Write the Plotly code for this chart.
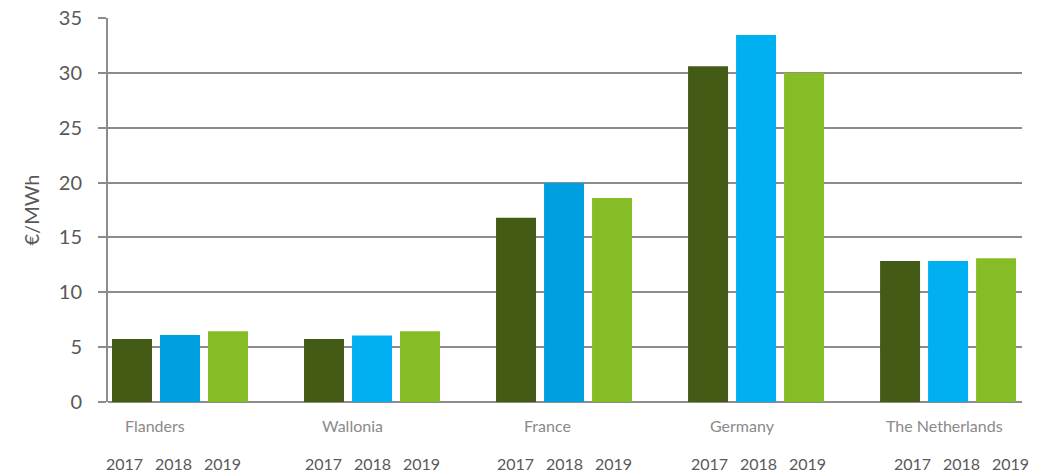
import plotly.graph_objects as go

regions = ["Flanders", "Wallonia", "France", "Germany", "The Netherlands"]
years = ["2017", "2018", "2019"]
values_2017 = [5.75, 5.75, 16.8, 30.6, 12.85]
values_2018 = [6.1, 6.05, 19.95, 33.45, 12.85]
values_2019 = [6.45, 6.45, 18.6, 30.0, 13.1]
y_ticks = [0, 5, 10, 15, 20, 25, 30, 35]

dark_green = "#435B15"
blue_a = "#00A0E0"
blue_b = "#00B0F0"
light_green = "#86BC25"
colors_2018 = [blue_a, blue_b, blue_a, blue_b, blue_b]

# label placement tweaks (pixels)
cat_shift = [-25, -20, -17, -14, -4]
year_shift = [-7, 0, 0, 2, 13]

xs = list(range(len(regions)))

fig = go.Figure()
fig.add_trace(go.Bar(x=xs, y=values_2017, name="2017", marker_color=dark_green, marker_line_width=0))
fig.add_trace(go.Bar(x=xs, y=values_2018, name="2018", marker_color=colors_2018, marker_line_width=0))
fig.add_trace(go.Bar(x=xs, y=values_2019, name="2019", marker_color=light_green, marker_line_width=0))

font_fam = "Lato, 'Open Sans', sans-serif"
annotations = []
offsets = [-0.25, 0.0, 0.25]
for i, r in enumerate(regions):
    annotations.append(dict(x=i, y=0, xref="x", yref="paper", text=r, showarrow=False,
                            yshift=-23, xshift=cat_shift[i],
                            font=dict(family=font_fam, size=16, color="#8a8a8a"),
                            xanchor="center", yanchor="middle"))
    for j, yr in enumerate(years):
        annotations.append(dict(x=i + offsets[j], y=0, xref="x", yref="paper", text=yr, showarrow=False,
                                yshift=-61, xshift=year_shift[i] + (j - 1) * 1,
                                font=dict(family=font_fam, size=16, color="#595959"),
                                xanchor="center", yanchor="middle"))

fig.update_layout(
    width=1040, height=466,
    margin=dict(l=100, r=26, t=10, b=72),
    paper_bgcolor="white", plot_bgcolor="white",
    barmode="group", bargap=0.25, bargroupgap=0.167,
    showlegend=False,
    annotations=annotations,
    xaxis=dict(range=[-0.375, 4.385], showticklabels=False, showgrid=False, zeroline=False,
               showline=False, ticks="", automargin=False),
    yaxis=dict(range=[0, 35], tickvals=y_ticks, showgrid=True, gridcolor="#8c8c8c", gridwidth=2,
               zeroline=True, zerolinecolor="#8c8c8c", zerolinewidth=2,
               showline=True, linecolor="#8c8c8c", linewidth=2,
               ticks="outside", ticklen=8, tickcolor="#8c8c8c", tickwidth=1.5,
               ticklabelstandoff=12, ticklabeloverflow="allow", automargin=False,
               tickfont=dict(family=font_fam, size=20, color="#595959"),
               title=dict(text="€/MWh", font=dict(family=font_fam, size=20, color="#595959"), standoff=14)),
)

fig.write_html("out.html")
